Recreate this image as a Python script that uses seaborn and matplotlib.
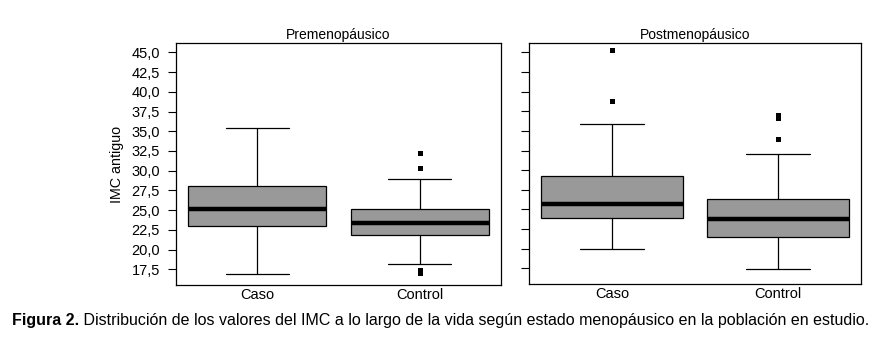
import numpy as np
import pandas as pd
import matplotlib
matplotlib.use('Agg')
import matplotlib.pyplot as plt
import seaborn as sns

# Five-number summaries (whisker low, Q1, median, Q3, whisker high)
grupos = ['Caso', 'Control']
pre_caso = [16.95, 22.95, 25.2, 28.0, 35.4]
pre_control = [18.2, 21.8, 23.4, 25.1, 28.9]
post_caso = [19.9, 23.9, 25.7, 29.3, 35.85]
post_control = [17.4, 21.5, 23.8, 26.3, 32.05]

# Outliers
pre_caso_out = []
pre_control_out = [32.25, 30.4, 17.35, 16.97]
post_caso_out = [45.3, 38.8]
post_control_out = [37.0, 36.7, 34.0]

paneles = ['Premenopáusico', 'Postmenopáusico']
yticks = [17.5, 20.0, 22.5, 25.0, 27.5, 30.0, 32.5, 35.0, 37.5, 40.0, 42.5, 45.0]
ytick_labels = ['17,5', '20,0', '22,5', '25,0', '27,5', '30,0', '32,5', '35,0',
                '37,5', '40,0', '42,5', '45,0']
caption_bold = 'Figura 2.'
caption_rest = (' Distribución de los valores del IMC a lo largo de la vida según '
                'estado menopáusico en la población en estudio.')


def to_long(caso, control):
    return pd.DataFrame({'grupo': ['Caso'] * len(caso) + ['Control'] * len(control),
                         'imc': list(caso) + list(control)})


box_data = [to_long(pre_caso, pre_control), to_long(post_caso, post_control)]
out_data = [to_long(pre_caso_out, pre_control_out), to_long(post_caso_out, post_control_out)]

sns.set_style('white')
plt.rcParams['font.family'] = ['Liberation Sans', 'DejaVu Sans']
plt.rcParams['text.color'] = 'black'
plt.rcParams['axes.labelcolor'] = 'black'
plt.rcParams['xtick.color'] = 'black'
plt.rcParams['ytick.color'] = 'black'

W, H = 881, 346
fig = plt.figure(figsize=(W / 100, H / 100), dpi=100)
ax_pos = [(176, 43, 501, 285), (529, 43, 861, 284)]

for i, (x0, y0, x1, y1) in enumerate(ax_pos):
    ax = fig.add_axes([x0 / W, (H - y1) / H, (x1 - x0) / W, (y1 - y0) / H])
    sns.boxplot(data=box_data[i], x='grupo', y='imc', order=grupos, ax=ax,
                color='#999999', saturation=1, width=0.85, whis=(0, 100),
                showfliers=False, linecolor='black', linewidth=0.9,
                capwidths=0.39,
                medianprops=dict(linewidth=3.2, color='black'))
    sns.stripplot(data=out_data[i], x='grupo', y='imc', order=grupos, ax=ax,
                  jitter=False, marker='s', color='black', size=3.6, linewidth=0)
    ax.set_xlim(-0.5, 1.5)
    ax.set_ylim(15.5, 46.2)
    ax.set_yticks(yticks)
    ax.set_xlabel('')
    ax.set_title(paneles[i], fontsize=10, pad=3, color='black')
    ax.tick_params(axis='x', length=0, labelsize=10.5, pad=2)
    ax.tick_params(axis='y', length=5.5, width=0.8, labelsize=10.5, pad=6, left=True)
    for s in ax.spines.values():
        s.set_linewidth(0.9)
        s.set_color('black')
    if i == 0:
        ax.set_yticklabels(ytick_labels)
        ax.set_ylabel('IMC antiguo', fontsize=10.3, labelpad=5)
    else:
        ax.tick_params(axis='y', labelleft=False)
        ax.set_ylabel('')

t = fig.text(12 / W, 1 - 325 / H, caption_bold, fontsize=11.5, fontweight='bold')
fig.canvas.draw()
bb = t.get_window_extent()
fig.text(bb.x1 / W, 1 - 325 / H, caption_rest, fontsize=11.5)

fig.savefig('out.png', dpi=100)
